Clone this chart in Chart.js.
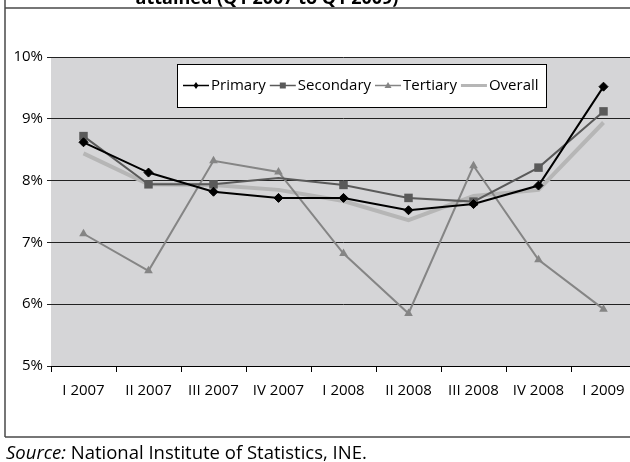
<!DOCTYPE html>
<html lang="en">
<head>
  <meta charset="UTF-8" />
  <title>Unemployment rate by education level</title>
  <script src="https://cdn.jsdelivr.net/npm/chart.js"></script>
  <style>
    html, body { margin: 0; padding: 0; background: #fff; overflow: hidden; }
    #wrap { width: 630px; height: 462px; overflow: hidden; }
  </style>
</head>
<body>
  <div id="wrap"><canvas id="chart" width="650" height="462"></canvas></div>

  <script>
    // quarters on the x axis
    const categories = ['I 2007', 'II 2007', 'III 2007', 'IV 2007', 'I 2008', 'II 2008', 'III 2008', 'IV 2008', 'I 2009'];

    // unemployment rate (%) by education level attained
    const primary   = [8.62, 8.13, 7.82, 7.72, 7.72, 7.52, 7.62, 7.92, 9.52];
    const secondary = [8.72, 7.94, 7.94, 8.04, 7.93, 7.72, 7.66, 8.21, 9.12];
    const tertiary  = [7.14, 6.54, 8.32, 8.14, 6.82, 5.85, 8.24, 6.72, 5.92];
    const overall   = [8.44, 7.94, 7.93, 7.85, 7.67, 7.36, 7.75, 7.85, 8.94];

    const seriesNames = ['Primary', 'Secondary', 'Tertiary', 'Overall'];
    const yMin = 5, yMax = 10, yStep = 1;

    const titleText = 'attained (Q1 2007 to Q1 2009)';

    Chart.defaults.font.family = "'Open Sans', sans-serif";
    Chart.defaults.font.size = 15;
    Chart.defaults.color = '#000';

    // little legend sample: line with a marker in the middle
    function drawMarker(ctx, style, x, y, s, color) {
      ctx.fillStyle = color;
      ctx.beginPath();
      if (style === 'rectRot') {
        ctx.moveTo(x, y - s); ctx.lineTo(x + s * 0.7, y); ctx.lineTo(x, y + s); ctx.lineTo(x - s * 0.7, y);
      } else if (style === 'rect') {
        ctx.rect(x - s, y - s, s * 2, s * 2);
      } else if (style === 'triangle') {
        ctx.moveTo(x, y - s); ctx.lineTo(x + s, y + s * 0.7); ctx.lineTo(x - s, y + s * 0.7);
      }
      ctx.closePath();
      ctx.fill();
    }

    const framePlugin = {
      id: 'frame',
      beforeDraw(chart) {
        const ctx = chart.ctx;
        const a = chart.chartArea;
        ctx.save();
        ctx.fillStyle = '#fff';
        ctx.fillRect(0, 0, chart.width, chart.height);
        ctx.fillStyle = '#d5d5d7';
        ctx.fillRect(a.left, a.top, a.right - a.left, a.bottom - a.top);
        ctx.restore();
      },
      afterDraw(chart) {
        const ctx = chart.ctx;
        ctx.save();

        // title (only its last line shows)
        ctx.fillStyle = '#000';
        ctx.font = "bold 18px 'Open Sans', sans-serif";
        ctx.textAlign = 'center';
        ctx.textBaseline = 'alphabetic';
        ctx.fillText(titleText, 267, 4);

        // frame lines
        ctx.strokeStyle = '#4a4a4a';
        ctx.lineWidth = 1.5;
        ctx.beginPath();
        ctx.moveTo(5, 8); ctx.lineTo(chart.width, 8);
        ctx.moveTo(5, 437); ctx.lineTo(chart.width, 437);
        ctx.moveTo(5, 0); ctx.lineTo(5, 437);
        ctx.stroke();

        // source note
        ctx.textAlign = 'left';
        ctx.font = "italic 18.5px 'Open Sans', sans-serif";
        ctx.fillText('Source:', 6, 459);
        const w = ctx.measureText('Source:').width;
        ctx.font = "18.5px 'Open Sans', sans-serif";
        ctx.fillText(' National Institute of Statistics, INE.', 6 + w, 459);

        // legend box inside the plot
        ctx.fillStyle = '#fff';
        ctx.fillRect(177.5, 64.5, 369, 43);
        ctx.strokeStyle = '#000';
        ctx.lineWidth = 1;
        ctx.strokeRect(177.5, 64.5, 369, 43);

        ctx.font = "15px 'Open Sans', sans-serif";
        ctx.textBaseline = 'middle';
        let x = 183;
        const y = 85.5;
        chart.data.datasets.forEach((ds) => {
          ctx.strokeStyle = ds.borderColor;
          ctx.lineWidth = ds.legendLine;
          ctx.beginPath();
          ctx.moveTo(x, y); ctx.lineTo(x + 26, y);
          ctx.stroke();
          if (ds.legendMarker) drawMarker(ctx, ds.legendMarker, x + 13, y, ds.legendSize, ds.pointBackgroundColor);
          ctx.fillStyle = '#000';
          ctx.fillText(ds.label, x + 28, y);
          x += 28 + ctx.measureText(ds.label).width + 4;
        });

        ctx.restore();
      }
    };

    new Chart(document.getElementById('chart'), {
      type: 'line',
      data: {
        labels: categories,
        datasets: [
          {
            label: seriesNames[0], data: primary,
            borderColor: '#000', borderWidth: 2,
            pointStyle: 'rectRot', pointRadius: 4.5,
            pointBackgroundColor: '#000', pointBorderColor: '#000', pointBorderWidth: 1,
            legendLine: 1.5, legendMarker: 'rectRot', legendSize: 3.5
          },
          {
            label: seriesNames[1], data: secondary,
            borderColor: '#5a5a5a', borderWidth: 2,
            pointStyle: 'rect', pointRadius: [6, 6, 6, 0, 6, 6, 6, 6, 6],
            pointBackgroundColor: '#5a5a5a', pointBorderColor: '#5a5a5a', pointBorderWidth: 0,
            legendLine: 1.5, legendMarker: 'rect', legendSize: 3
          },
          {
            label: seriesNames[2], data: tertiary,
            borderColor: '#858585', borderWidth: 2,
            pointStyle: 'triangle', pointRadius: 5,
            pointBackgroundColor: '#858585', pointBorderColor: '#858585', pointBorderWidth: 0,
            legendLine: 1.5, legendMarker: 'triangle', legendSize: 3.5
          },
          {
            label: seriesNames[3], data: overall,
            borderColor: '#b6b6b6', borderWidth: 4,
            pointRadius: 0,
            pointBackgroundColor: '#b6b6b6',
            legendLine: 3
          }
        ]
      },
      options: {
        responsive: false,
        animation: false,
        events: [],
        layout: { padding: { left: 0, top: 57, right: 14, bottom: 56 } },
        plugins: { legend: { display: false }, tooltip: { enabled: false }, title: { display: false } },
        elements: { line: { tension: 0 } },
        scales: {
          x: {
            offset: true,
            grid: { display: true, drawOnChartArea: false, drawTicks: true, tickLength: 6, offset: true, color: '#000' },
            border: { display: true, color: '#000', width: 1 },
            ticks: { padding: 10, maxRotation: 0, autoSkip: false, color: '#000', font: { size: 15 } },
            afterFit(scale) { scale.height = 40; }
          },
          y: {
            min: yMin, max: yMax,
            grid: { color: '#222', lineWidth: 1, drawTicks: true, tickLength: 4 },
            border: { display: false },
            ticks: { stepSize: yStep, padding: 4, color: '#000', font: { size: 15 }, callback: v => v + '%' },
            afterFit(scale) { scale.width = 51; }
          }
        }
      },
      plugins: [framePlugin]
    });
  </script>
</body>
</html>
